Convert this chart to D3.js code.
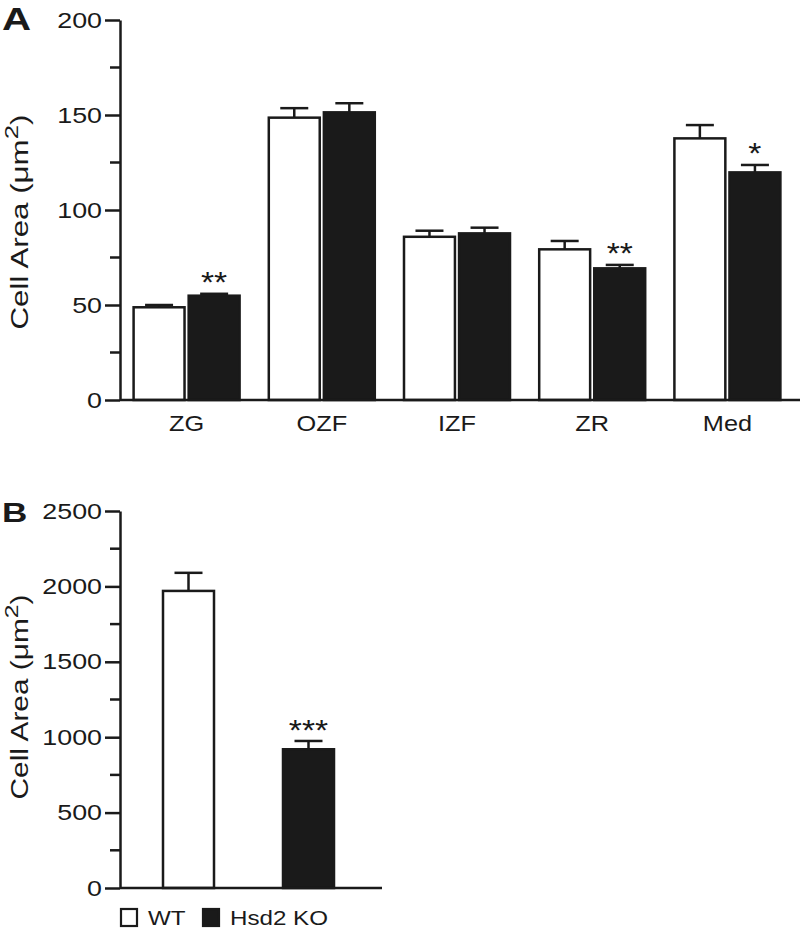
<!DOCTYPE html>
<html>
<head>
<meta charset="utf-8">
<script src="https://cdn.jsdelivr.net/npm/d3@7"></script>
<style>
  html, body { margin: 0; padding: 0; background: #fff; }
  svg { display: block; font-family: "Liberation Sans", Arial, sans-serif; }
</style>
</head>
<body>
<svg id="chart" width="800" height="931"></svg>
<script>
// ---- Data: panel A ----
const zones = ["ZG", "OZF", "IZF", "ZR", "Med"];
const wtMean = [48.8, 148.6, 85.9, 79.3, 137.7];
const wtErr  = [1.2, 5.0, 3.2, 4.4, 7.0];
const koMean = [54.9, 151.4, 87.7, 69.3, 119.8];
const koErr  = [1.0, 4.8, 3.0, 1.8, 3.9];
const sigA   = ["**", "", "", "**", "*"];
const yTicksA = [0, 50, 100, 150, 200];

// ---- Data: panel B ----
const groupsB = ["WT", "Hsd2 KO"];
const meanB = [1970, 920];
const errB  = [120, 55];
const sigB  = ["", "***"];
const yTicksB = [0, 500, 1000, 1500, 2000, 2500];

const seriesNames = ["WT", "Hsd2 KO"];
const ink = "#1a1a1a";
const svg = d3.select("#chart");

function stretch(sel, f) {
  sel.each(function () {
    const L = this.getComputedTextLength();
    d3.select(this).attr("textLength", L * f).attr("lengthAdjust", "spacingAndGlyphs");
  });
}

function yAxisLabel(g, x, y, len) {
  const t = g.append("text")
    .attr("transform", `translate(${x},${y}) rotate(-90)`)
    .attr("text-anchor", "middle")
    .attr("font-size", 23)
    .attr("fill", ink);
  t.append("tspan").text("Cell Area (\u03BCm");
  t.append("tspan").attr("baseline-shift", "super").attr("font-size", 19).text("2");
  t.append("tspan").attr("baseline-shift", "0").text(")");
  t.attr("textLength", len).attr("lengthAdjust", "spacingAndGlyphs");
}

function drawYAxis(g, y, major, minorStep, x0) {
  const ax = d3.axisLeft(y).tickValues(major).tickFormat(d3.format("d"))
    .tickSize(15).tickPadding(3).tickSizeOuter(0);
  const ga = g.append("g").attr("transform", `translate(${x0},0)`).call(ax);
  ga.select(".domain").attr("stroke", ink).attr("stroke-width", 2.5);
  ga.selectAll(".tick line").attr("stroke", ink).attr("stroke-width", 2.5);
  ga.selectAll(".tick text").attr("font-size", 22).attr("fill", ink)
    .attr("font-family", "Liberation Sans, Arial, sans-serif");
  stretch(ga.selectAll(".tick text"), 1.22);
  const dom = y.domain();
  const minors = d3.range(dom[0] + minorStep, dom[1], minorStep).filter(v => !major.includes(v));
  g.append("g").selectAll("line").data(minors).join("line")
    .attr("x1", x0 - 10).attr("x2", x0)
    .attr("y1", d => y(d)).attr("y2", d => y(d))
    .attr("stroke", ink).attr("stroke-width", 2.5);
}

function drawBar(g, x, w, y, mean, err, fill) {
  const cx = x + w / 2;
  g.append("line").attr("x1", cx).attr("x2", cx)
    .attr("y1", y(mean)).attr("y2", y(mean + err))
    .attr("stroke", ink).attr("stroke-width", 2.5);
  g.append("line").attr("x1", cx - 14).attr("x2", cx + 14)
    .attr("y1", y(mean + err)).attr("y2", y(mean + err))
    .attr("stroke", ink).attr("stroke-width", 2.5);
  g.append("rect").attr("x", x).attr("y", y(mean))
    .attr("width", w).attr("height", y(0) - y(mean))
    .attr("fill", fill).attr("stroke", ink).attr("stroke-width", 2.5);
}

function star(g, x, y, s) {
  const t = g.append("text").attr("x", x).attr("y", y)
    .attr("text-anchor", "middle").attr("font-size", 30)
    .attr("fill", ink).text(s);
  stretch(t, 1.12);
}

// ---- Panel A ----
const gA = svg.append("g");
const yA = d3.scaleLinear().domain([0, 200]).range([400, 20]);
const x0A = d3.scaleBand().domain(zones).range([119, 795]).padding(0);
const x1A = d3.scaleBand().domain(seriesNames).range([-53, 53]).paddingInner(0.075).paddingOuter(0);

zones.forEach((z, i) => {
  const c = x0A(z) + x0A.bandwidth() / 2;
  const w = x1A.bandwidth();
  drawBar(gA, c + x1A("WT"), w, yA, wtMean[i], wtErr[i], "#fff");
  drawBar(gA, c + x1A("Hsd2 KO"), w, yA, koMean[i], koErr[i], ink);
  if (sigA[i]) {
    star(gA, c + x1A("Hsd2 KO") + w / 2, yA(koMean[i] + koErr[i]) - 2, sigA[i]);
  }
});
gA.append("line").attr("x1", 120).attr("x2", 800).attr("y1", yA(0)).attr("y2", yA(0))
  .attr("stroke", ink).attr("stroke-width", 2.5);
const axA = d3.axisBottom(x0A).tickSize(0).tickPadding(15);
const gxA = gA.append("g").attr("transform", `translate(0,${yA(0)})`).call(axA);
gxA.select(".domain").remove();
gxA.selectAll(".tick text").attr("font-size", 22).attr("fill", ink)
  .attr("font-family", "Liberation Sans, Arial, sans-serif");
stretch(gxA.selectAll(".tick text"), 1.15);
drawYAxis(gA, yA, yTicksA, 25, 120);
yAxisLabel(gA, 28, 222, 215);
const tA = gA.append("text").attr("x", 2).attr("y", 30).attr("font-size", 31)
  .attr("font-weight", "bold").attr("fill", ink).text("A");
stretch(tA, 1.3);

// ---- Panel B ----
const gB = svg.append("g");
const yB = d3.scaleLinear().domain([0, 2500]).range([888, 511]);
const xB = d3.scaleBand().domain(groupsB).range([128.5, 368.5]).padding(0);
const wB = 51;
groupsB.forEach((gname, i) => {
  const c = xB(gname) + xB.bandwidth() / 2;
  drawBar(gB, c - wB / 2, wB, yB, meanB[i], errB[i], i === 0 ? "#fff" : ink);
  if (sigB[i]) {
    star(gB, c, yB(meanB[i] + errB[i]) - 1, sigB[i]);
  }
});
gB.append("line").attr("x1", 120).attr("x2", 382).attr("y1", yB(0)).attr("y2", yB(0))
  .attr("stroke", ink).attr("stroke-width", 2.5);
drawYAxis(gB, yB, yTicksB, 250, 120);
yAxisLabel(gB, 28, 697, 205);
const tB = gB.append("text").attr("x", 2).attr("y", 522).attr("font-size", 28)
  .attr("font-weight", "bold").attr("fill", ink).text("B");
stretch(tB, 1.25);

// ---- Legend ----
const leg = svg.append("g").attr("transform", "translate(121,909)");
const legX = [0, 82];
seriesNames.forEach((s, i) => {
  leg.append("rect").attr("x", legX[i]).attr("y", 0).attr("width", 16).attr("height", 17)
    .attr("fill", i === 0 ? "#fff" : ink).attr("stroke", ink).attr("stroke-width", 2.2);
  const t = leg.append("text").attr("x", legX[i] + 27).attr("y", 16).attr("font-size", 21)
    .attr("fill", ink).text(s);
  stretch(t, 1.15);
});
</script>
</body>
</html>
